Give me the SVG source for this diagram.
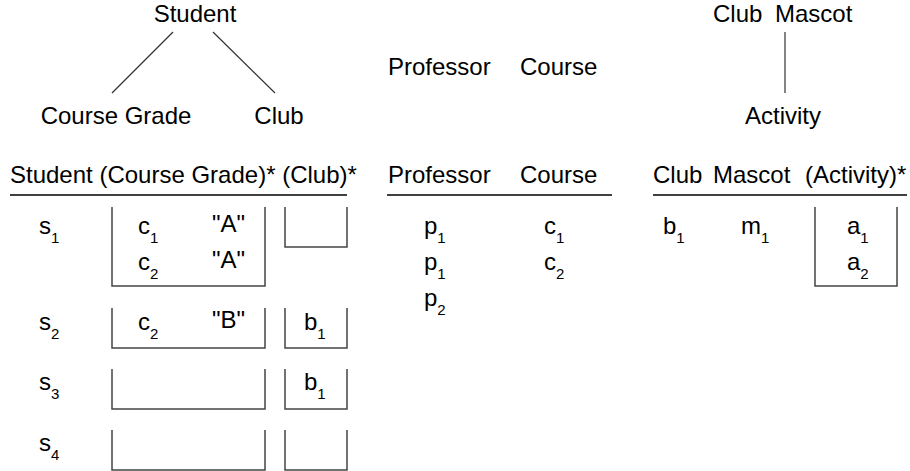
<svg xmlns="http://www.w3.org/2000/svg" width="910" height="471" viewBox="0 0 910 471">
<style>
text{font-family:"Liberation Sans",Arial,sans-serif;font-size:24px;fill:#000}
.sub{font-size:15px}
.m{text-anchor:middle}
.ln{stroke:#333;stroke-width:1.2;fill:none}
.ul{stroke:#000;stroke-width:1.5;fill:none}
.bx{stroke:#444;stroke-width:1.5;fill:none}
</style>
<rect width="910" height="471" fill="#fff"/>
<g id="connectors">
<line class="ln" x1="173" y1="32" x2="112" y2="93"/>
<line class="ln" x1="213" y1="32" x2="275" y2="93"/>
<line class="ln" x1="785" y1="32" x2="785" y2="93"/>
</g>
<g id="student"><text class="m" x="195" y="22">Student</text></g>
<g id="course-grade"><text class="m" x="116" y="124">Course Grade</text></g>
<g id="club"><text class="m" x="279" y="124">Club</text></g>
<g id="professor-course"><text x="388" y="75">Professor<tspan x="520">Course</tspan></text></g>
<g id="club-mascot"><text x="713" y="22">Club<tspan x="775">Mascot</tspan></text></g>
<g id="activity"><text class="m" x="783" y="124">Activity</text></g>

<g id="table-student">
<text x="10" y="183">Student (Course Grade)* (Club)*</text>
<line class="ul" x1="10" y1="195" x2="347" y2="195"/>
<text x="39" y="234">s<tspan class="sub" dy="9">1</tspan></text>
<text x="39" y="330">s<tspan class="sub" dy="9">2</tspan></text>
<text x="39" y="390">s<tspan class="sub" dy="9">3</tspan></text>
<text x="39" y="451">s<tspan class="sub" dy="9">4</tspan></text>
<path class="bx" d="M112 207V286H265V207"/>
<path class="bx" d="M285 207V247H347V207"/>
<text x="138" y="234">c<tspan class="sub" dy="9">1</tspan></text>
<text x="212" y="232">"A"</text>
<text x="138" y="270">c<tspan class="sub" dy="9">2</tspan></text>
<text x="212" y="268">"A"</text>
<path class="bx" d="M112 308V348H265V308"/>
<path class="bx" d="M285 308V348H347V308"/>
<text x="138" y="330">c<tspan class="sub" dy="9">2</tspan></text>
<text x="212" y="328">"B"</text>
<text x="304" y="330">b<tspan class="sub" dy="9">1</tspan></text>
<path class="bx" d="M112 369V409H265V369"/>
<path class="bx" d="M285 369V409H347V369"/>
<text x="304" y="390">b<tspan class="sub" dy="9">1</tspan></text>
<path class="bx" d="M112 430V470H265V430"/>
<path class="bx" d="M285 430V470H347V430"/>
</g>

<g id="table-professor">
<text x="388" y="183">Professor<tspan x="520">Course</tspan></text>
<line class="ul" x1="387" y1="195" x2="612" y2="195"/>
<text x="424" y="234">p<tspan class="sub" dy="9">1</tspan></text>
<text x="544" y="234">c<tspan class="sub" dy="9">1</tspan></text>
<text x="424" y="270">p<tspan class="sub" dy="9">1</tspan></text>
<text x="544" y="270">c<tspan class="sub" dy="9">2</tspan></text>
<text x="424" y="306">p<tspan class="sub" dy="9">2</tspan></text>
</g>

<g id="table-club">
<text x="653" y="183">Club<tspan x="713">Mascot</tspan><tspan x="805">(Activity)*</tspan></text>
<line class="ul" x1="653" y1="195" x2="907" y2="195"/>
<text x="663" y="234">b<tspan class="sub" dy="9">1</tspan></text>
<text x="741" y="234">m<tspan class="sub" dy="9">1</tspan></text>
<path class="bx" d="M815 207V286H897V207"/>
<text x="847" y="234">a<tspan class="sub" dy="9">1</tspan></text>
<text x="847" y="270">a<tspan class="sub" dy="9">2</tspan></text>
</g>
</svg>
